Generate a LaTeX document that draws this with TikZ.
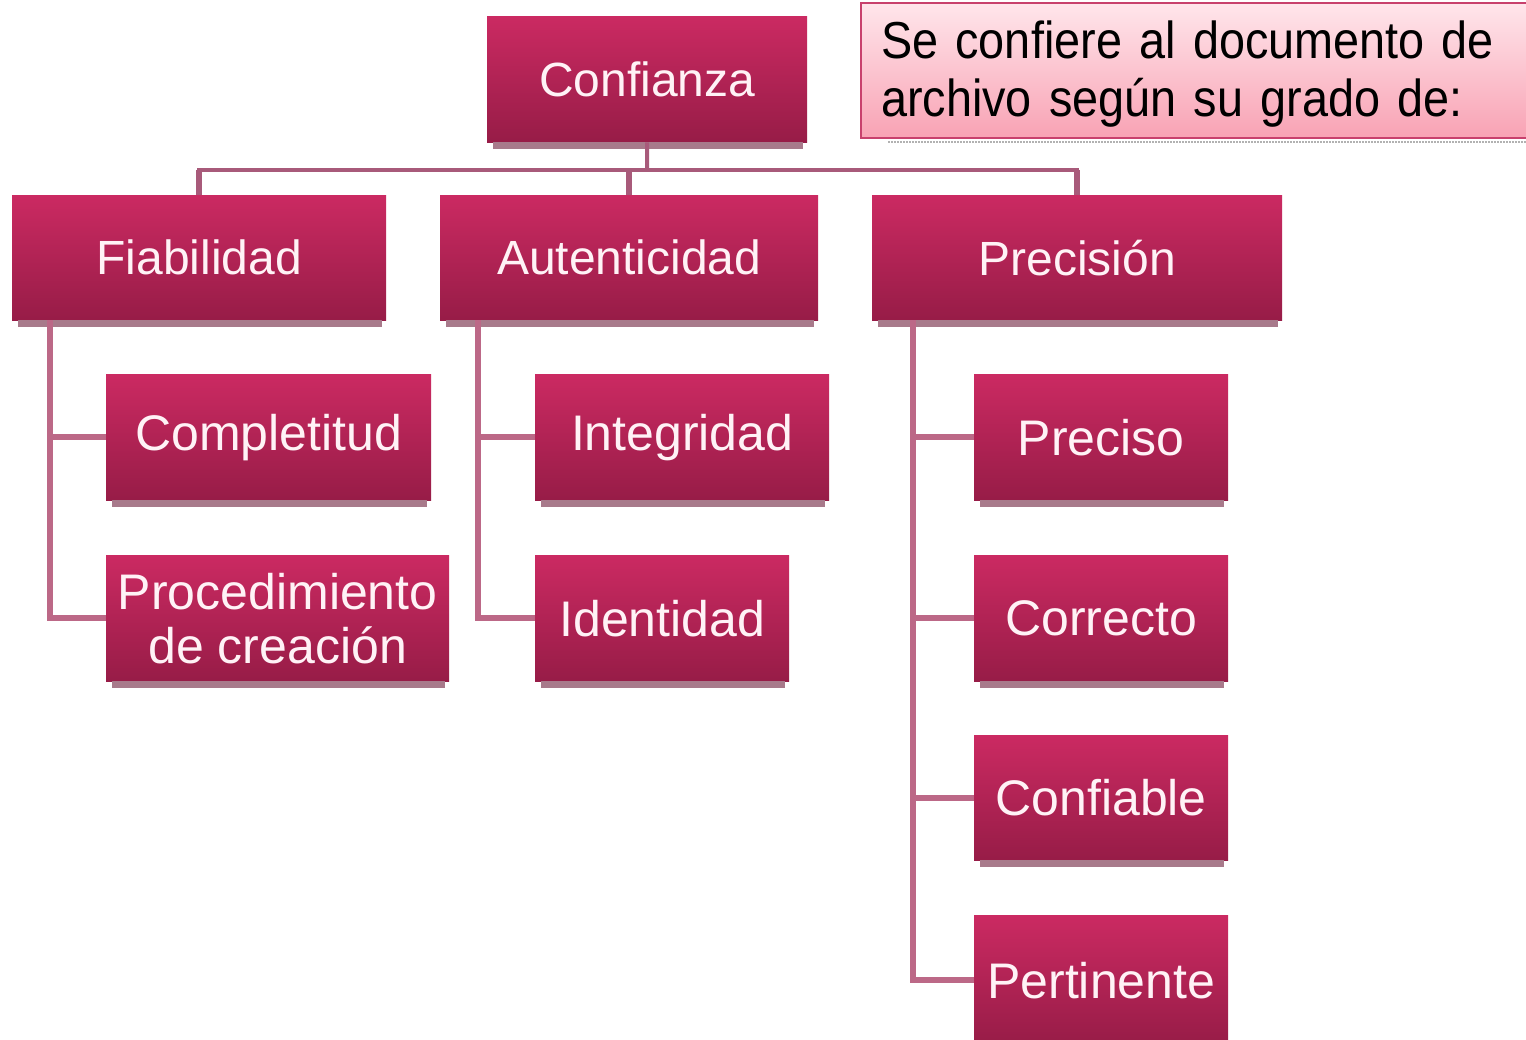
\documentclass[tikz,border=0pt]{standalone}
\usepackage{fontspec}
\setmainfont{Liberation Sans}
\newfontfamily\calloutfont[FakeStretch=0.9,WordSpace=0.8]{Liberation Sans}
\definecolor{boxtop}{HTML}{CB2A62}
\definecolor{boxbot}{HTML}{971C47}
\definecolor{stripec}{HTML}{A87A8B}
\definecolor{connc}{HTML}{BC6887}
\definecolor{busc}{HTML}{A85A7A}
\definecolor{txtc}{HTML}{FFF2F6}
\definecolor{calltop}{HTML}{FFE6EB}
\definecolor{callbot}{HTML}{F8A2B4}
\definecolor{callborder}{HTML}{C8416D}
\begin{document}
\begin{tikzpicture}[x=1pt,y=-1pt,
  box/.style={anchor=north west, inner sep=0pt, top color=boxtop, bottom color=boxbot,
    text=txtc, align=center, font=\fontsize{48}{53}\selectfont},
  boxthree/.style={box, font=\fontsize{50}{54}\selectfont},
  stripebar/.style={fill=stripec},
  conn/.style={draw=connc, line width=6pt},
  bus/.style={draw=busc, line width=4pt},
  drop/.style={draw=busc, line width=6pt},
  callout/.style={anchor=north west, draw=callborder, line width=2pt, top color=calltop,
    bottom color=callbot, inner xsep=20pt, align=left, text=black,
    font=\calloutfont\fontsize{52}{58}\selectfont}]
\useasboundingbox (0,0) rectangle (1526,1039);
\clip (0,0) rectangle (1526,1039);

% callout
\node[callout, minimum width=680pt, minimum height=135pt, text width=640pt,
  text height=44pt] (call) at (860,2)
  {Se confiere al documento de\\archivo según su grado de:};
\draw[gray!60, line width=2pt, dash pattern=on 2pt off 1pt]
  ([xshift=28pt,yshift=-3pt]call.south west) -- ([yshift=-3pt]call.south east);

% level 1
\node[box, minimum width=320pt, minimum height=126pt] (conf) at (487,16) {Confianza};
% level 2
\node[box, minimum width=374pt, minimum height=125pt] (fia) at (12,195) {Fiabilidad};
\node[box, minimum width=378pt, minimum height=125pt] (aut) at (440,195) {Autenticidad};
\node[box, minimum width=410pt, minimum height=125pt] (pre) at (872,195) {Precisión};
% level 3
\node[boxthree, minimum width=325pt, minimum height=126pt] (comp) at (106,374) {Completitud};
\node[boxthree, minimum width=343pt, minimum height=126pt] (proc) at (106,555) {Procedimiento\\de creación};
\node[boxthree, minimum width=294pt, minimum height=126pt] (integ) at (535,374) {Integridad};
\node[boxthree, minimum width=254pt, minimum height=126pt] (ident) at (535,555) {Identidad};
\node[boxthree, minimum width=254pt, minimum height=126pt] (prec) at (974,374) {Preciso};
\node[boxthree, minimum width=254pt, minimum height=126pt] (corr) at (974,555) {Correcto};
\node[boxthree, minimum width=254pt, minimum height=125pt] (confi) at (974,735) {Confiable};
\node[boxthree, minimum width=254pt, minimum height=130pt] (pert) at (974,915) {Pertinente};

% shadow stripes
\foreach \n in {conf,fia,aut,pre,comp,proc,integ,ident,prec,corr,confi}
  \fill[stripebar] ([xshift=6pt]\n.south west) rectangle ([xshift=-4pt,yshift=-7pt]\n.south east);

% connectors from the root
\coordinate (j) at (647,170);
\draw[bus] (conf.south) -- (j);
\draw[bus] (fia.north) |- (j);
\draw[bus] (pre.north) |- (j);
\draw[drop] (fia.north) -- (fia.north |- j);
\draw[drop] (aut.north) -- (aut.north |- j);
\draw[drop] (pre.north) -- (pre.north |- j);

% branches
\draw[conn] ([xshift=38pt]fia.south west) |- (comp.west);
\draw[conn] ([xshift=38pt]fia.south west) |- (proc.west);
\draw[conn] ([xshift=38pt]aut.south west) |- (integ.west);
\draw[conn] ([xshift=38pt]aut.south west) |- (ident.west);
\draw[conn] ([xshift=41pt]pre.south west) |- (prec.west);
\draw[conn] ([xshift=41pt]pre.south west) |- (corr.west);
\draw[conn] ([xshift=41pt]pre.south west) |- (confi.west);
\draw[conn] ([xshift=41pt]pre.south west) |- (pert.west);
\end{tikzpicture}
\end{document}
